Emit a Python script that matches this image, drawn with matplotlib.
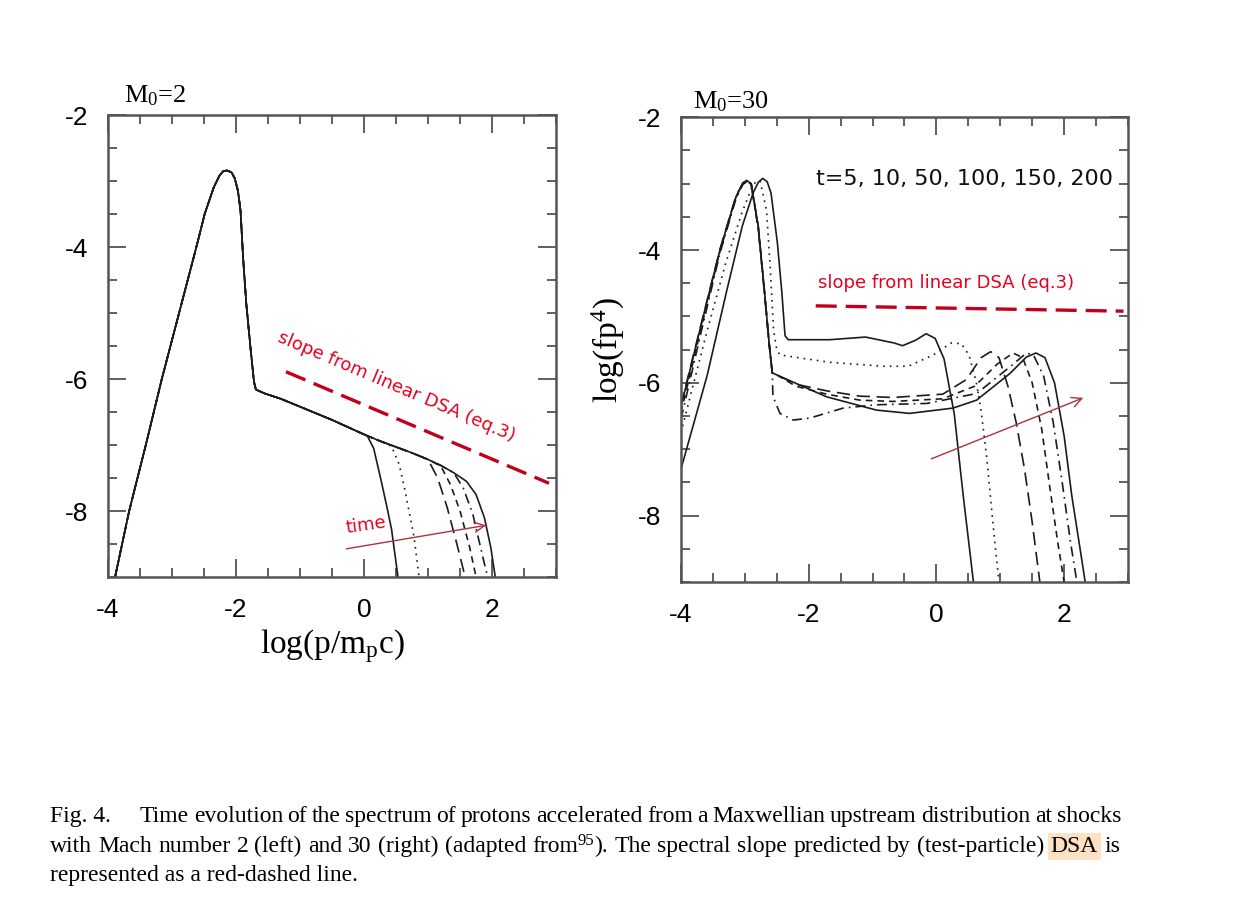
import matplotlib
matplotlib.use("Agg")
import matplotlib.pyplot as plt
from matplotlib.ticker import MultipleLocator

plt.rcParams['font.family'] = ['Liberation Sans', 'DejaVu Sans']
plt.rcParams['mathtext.fontset'] = 'custom'
plt.rcParams['mathtext.rm'] = 'Liberation Serif'
plt.rcParams['mathtext.it'] = 'Liberation Serif:italic'
plt.rcParams['axes.unicode_minus'] = False

# ---- left panel, M0=2 : shared Maxwellian + power law part
l_shared_x = [-3.89, -3.67, -3.41, -3.16, -2.89, -2.62, -2.49, -2.35, -2.26, -2.20, -2.14,
              -2.07, -2.02, -1.97, -1.93, -1.89, -1.84, -1.77, -1.72, -1.69,
              -1.55, -1.30, -1.00, -0.50, 0.00, 0.05]
l_shared_y = [-9.00, -8.00, -7.00, -6.00, -5.00, -4.00, -3.50, -3.10, -2.92, -2.85, -2.84,
              -2.87, -2.96, -3.15, -3.45, -4.16, -4.86, -5.57, -6.04, -6.16,
              -6.22, -6.30, -6.42, -6.62, -6.84, -6.86]
# tails for t=5, 10, 50, 100, 150, 200
l_tail_x = [
    [0.15, 0.26, 0.36, 0.43, 0.53],
    [0.25, 0.43, 0.55, 0.64, 0.78, 0.86],
    [0.25, 0.50, 0.75, 1.00, 1.15, 1.30, 1.45, 1.58],
    [0.25, 0.50, 0.75, 1.00, 1.20, 1.35, 1.50, 1.65, 1.75],
    [0.25, 0.50, 0.75, 1.00, 1.20, 1.40, 1.55, 1.70, 1.82, 1.93],
    [0.25, 0.50, 0.75, 1.00, 1.20, 1.40, 1.60, 1.75, 1.88, 1.98, 2.05],
]
l_tail_y = [
    [-7.05, -7.51, -7.95, -8.28, -9.00],
    [-6.94, -7.02, -7.30, -7.69, -8.39, -9.00],
    [-6.94, -7.03, -7.12, -7.22, -7.50, -7.95, -8.50, -9.00],
    [-6.94, -7.03, -7.12, -7.22, -7.32, -7.60, -8.00, -8.55, -9.00],
    [-6.94, -7.03, -7.12, -7.22, -7.31, -7.42, -7.65, -8.05, -8.55, -9.00],
    [-6.94, -7.03, -7.12, -7.22, -7.31, -7.42, -7.55, -7.75, -8.10, -8.55, -9.00],
]

# ---- right panel, M0=30
r_x = [
    [-4.00, -3.59, -3.29, -3.04, -2.87, -2.79, -2.72, -2.65, -2.59, -2.49, -2.42, -2.37, -2.32,
     -1.67, -1.11, -0.66, -0.53, -0.33, -0.16, -0.02, 0.12, 0.28, 0.42, 0.58],
    [-4.00, -3.60, -3.30, -3.05, -2.90, -2.83, -2.76, -2.66, -2.60, -2.55, -2.50, -2.45,
     -1.67, -0.83, -0.44, -0.05, 0.23, 0.39, 0.51, 0.62, 0.70, 0.79, 0.90, 0.98],
    [-4.00, -3.69, -3.39, -3.14, -3.03, -2.97, -2.90, -2.79, -2.69, -2.62, -2.57, -2.50,
     -2.20, -1.72, -1.20, -0.68, 0.10, 0.47, 0.70, 0.85, 0.98, 1.12, 1.25, 1.38, 1.50, 1.62],
    [-4.00, -3.69, -3.39, -3.14, -3.03, -2.97, -2.90, -2.79, -2.69, -2.62, -2.57, -2.50,
     -2.20, -1.72, -1.20, -0.68, 0.10, 0.60, 0.95, 1.20, 1.35, 1.50, 1.65, 1.78, 1.90, 2.00],
    [-4.00, -3.69, -3.39, -3.14, -3.03, -2.97, -2.90, -2.79, -2.69, -2.62, -2.57, -2.56,
     -2.45, -2.24, -1.98, -1.46, -0.94, -0.15, 0.63, 1.15, 1.41, 1.52, 1.68, 1.83, 1.97, 2.10, 2.20],
    [-4.00, -3.69, -3.39, -3.14, -3.03, -2.97, -2.90, -2.79, -2.69, -2.62, -2.57, -2.50,
     -1.72, -0.94, -0.42, 0.26, 0.63, 1.15, 1.41, 1.56, 1.70, 1.85, 2.00, 2.12, 2.25, 2.33],
]
r_y = [
    [-7.30, -5.89, -4.64, -3.64, -3.14, -2.98, -2.92, -2.97, -3.14, -3.89, -4.64, -5.29, -5.35,
     -5.35, -5.31, -5.40, -5.44, -5.36, -5.26, -5.33, -5.64, -6.47, -7.70, -9.00],
    [-6.75, -5.25, -4.20, -3.45, -3.08, -2.97, -2.96, -3.40, -4.30, -5.20, -5.50, -5.58,
     -5.69, -5.75, -5.75, -5.58, -5.40, -5.41, -5.58, -5.97, -6.42, -7.14, -8.26, -9.00],
    [-6.34, -5.14, -3.99, -3.19, -2.99, -2.95, -3.00, -3.64, -4.64, -5.39, -5.85, -5.88,
     -6.02, -6.12, -6.20, -6.22, -6.17, -5.95, -5.62, -5.53, -5.62, -6.05, -6.60, -7.30, -8.10, -9.00],
    [-6.45, -5.20, -4.02, -3.21, -3.00, -2.96, -3.01, -3.66, -4.66, -5.40, -5.86, -5.88,
     -6.05, -6.17, -6.26, -6.28, -6.24, -6.05, -5.72, -5.55, -5.62, -6.00, -6.70, -7.60, -8.40, -9.00],
    [-6.55, -5.26, -4.05, -3.23, -3.01, -2.97, -3.02, -3.68, -4.68, -5.42, -5.85, -6.20,
     -6.46, -6.56, -6.53, -6.38, -6.33, -6.31, -6.16, -5.76, -5.55, -5.58, -5.90, -6.60, -7.50, -8.40, -9.00],
    [-6.36, -5.15, -4.00, -3.20, -2.99, -2.95, -3.00, -3.64, -4.64, -5.39, -5.85, -5.88,
     -6.21, -6.41, -6.46, -6.38, -6.26, -5.86, -5.61, -5.55, -5.62, -6.00, -6.80, -7.70, -8.50, -9.00],
]

times_label = "t=5, 10, 50, 100, 150, 200"
dsa_left_x = [-1.22, 2.89]
dsa_left_y = [-5.89, -7.58]
dsa_right_x = [-1.89, 2.93]
dsa_right_y = [-4.84, -4.92]
arrow_left = [(-0.32, -8.58), (1.95, -8.21)]
arrow_right = [(-0.12, -7.16), (2.34, -6.21)]

# '^' marks a superscript run inside a word: base^sup^tail
caption_1 = ("Time evolution of the spectrum of protons accelerated from a Maxwellian "
             "upstream distribution at shocks")
caption_2 = ("with Mach number 2 (left) and 30 (right) (adapted from^95^). "
             "The spectral slope predicted by (test-particle) DSA is")
caption_3 = "represented as a red-dashed line."

styles = ['-', (0, (1, 3)), (0, (8, 4)), (0, (4, 3)), (0, (6, 3, 1, 3)), '-']
red_txt = '#e4001e'
red_line = '#c0001c'
red_arrow = '#b0303c'
ink = '#1c1c1c'

W, H = 1239, 915
fig = plt.figure(figsize=(W / 100, H / 100), dpi=100)
axl = fig.add_axes([0.0872, 0.3694, 0.3616, 0.5049])
axr = fig.add_axes([0.5496, 0.3639, 0.3608, 0.5079])

for i in range(6):
    axl.plot(l_shared_x + l_tail_x[i], l_shared_y + l_tail_y[i],
             color=ink, lw=1.2, linestyle=styles[i])
    axr.plot(r_x[i], r_y[i], color=ink, lw=1.2, linestyle=styles[i])

for ax in (axl, axr):
    ax.set_xlim(-4, 3)
    ax.set_ylim(-9, -2)
    ax.xaxis.set_major_locator(MultipleLocator(2))
    ax.xaxis.set_minor_locator(MultipleLocator(0.5))
    ax.yaxis.set_major_locator(MultipleLocator(2))
    ax.yaxis.set_minor_locator(MultipleLocator(0.5))
    ax.tick_params(which='both', direction='in', top=True, right=True,
                   color='#444444', width=1.2)
    ax.tick_params(which='major', length=13)
    ax.tick_params(which='minor', length=6.5)
    ax.tick_params(axis='y', which='major', pad=14, labelsize=19)
    ax.tick_params(axis='x', which='major', pad=15, labelsize=19)
    for sp in ax.spines.values():
        sp.set_color('#555555')
        sp.set_linewidth(1.8)

axl.text(0.035, 1.016, 'M$_\\mathrm{0}$=2', transform=axl.transAxes,
         family='Liberation Serif', fontsize=19, ha='left', va='bottom')
axr.text(0.028, 1.008, 'M$_\\mathrm{0}$=30', transform=axr.transAxes,
         family='Liberation Serif', fontsize=19, ha='left', va='bottom')
axl.set_xlabel('log(p/m$_\\mathrm{p}$c)', family='Liberation Serif', fontsize=24, labelpad=4)
axr.set_ylabel('log(fp$^\\mathrm{4}$)', family='Liberation Serif', fontsize=24, labelpad=8)

# red annotations
axl.plot(dsa_left_x, dsa_left_y, color=red_line, lw=2.4, dashes=(6.3, 2.7))
axl.text(0.5, -6.12, 'slope from linear DSA (eq.3)', color=red_txt, fontsize=13,
         family='DejaVu Sans', rotation=-23, ha='center', va='center',
         rotation_mode='anchor')
axl.text(0.03, -8.22, 'time', color=red_txt, fontsize=13, family='DejaVu Sans',
         rotation=8, ha='center', va='center')
axl.annotate('', xy=arrow_left[1], xytext=arrow_left[0],
             arrowprops=dict(arrowstyle='->', color=red_arrow, lw=1.0, mutation_scale=18))

axr.plot(dsa_right_x, dsa_right_y, color=red_line, lw=2.4, dashes=(6.3, 2.7))
axr.text(-1.86, -4.49, 'slope from linear DSA (eq.3)', color=red_txt, fontsize=13,
         family='DejaVu Sans', ha='left', va='center')
axr.annotate('', xy=arrow_right[1], xytext=arrow_right[0],
             arrowprops=dict(arrowstyle='->', color=red_arrow, lw=1.0, mutation_scale=18))
axr.text(-1.89, -2.93, times_label, family='DejaVu Sans', fontsize=16,
         ha='left', va='center', color='#111111')

# caption, justified like the printed page (bottom-aligned words keep one baseline)
cap_kw = dict(family='Liberation Serif', fontsize=17, va='bottom', ha='left')
desc = 5.0
renderer = fig.canvas.get_renderer()


def word_parts(w, y_px, mark):
    kw = dict(cap_kw)
    if w == mark:
        kw['bbox'] = dict(boxstyle='square,pad=0.12', fc='#fee0c3', ec='none')
    if '^' not in w:
        return [fig.text(0, 1 - (y_px + desc) / H, w, **kw)]
    base, sup, tail = w.split('^')
    sup_kw = dict(kw, fontsize=12)
    return [fig.text(0, 1 - (y_px + desc) / H, base, **kw),
            fig.text(0, 1 - (y_px + desc - 8) / H, sup, **sup_kw),
            fig.text(0, 1 - (y_px + desc) / H, tail, **kw)]


def justify(line, y_px, x0_px, x1_px, mark=None):
    words = [word_parts(w, y_px, mark) for w in line.split(' ')]
    widths = [[t.get_window_extent(renderer).width for t in parts] for parts in words]
    gap = (x1_px - x0_px - sum(sum(ws) for ws in widths)) / (len(words) - 1)
    x = x0_px
    for parts, ws in zip(words, widths):
        for t, w in zip(parts, ws):
            t.set_x(x / W)
            x += w
        x += gap


fig.text(50 / W, 1 - (821.7 + desc) / H, 'Fig. 4.', **cap_kw)
justify(caption_1, 821.7, 140, 1121)
justify(caption_2, 851.7, 50, 1120, mark='DSA')
fig.text(50 / W, 1 - (880.5 + desc) / H, caption_3, **cap_kw)

fig.savefig('out.png', dpi=100)
